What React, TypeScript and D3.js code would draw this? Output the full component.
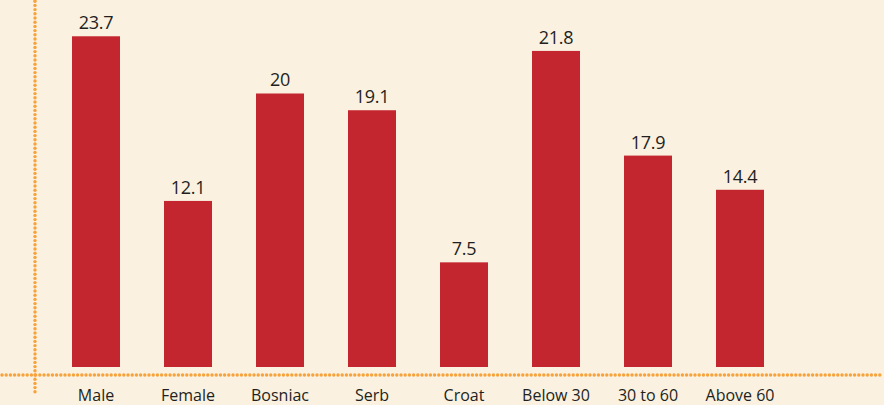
import React from 'react';
import * as d3 from 'd3';

const categories = ['Male', 'Female', 'Bosniac', 'Serb', 'Croat', 'Below 30', '30 to 60', 'Above 60'];
// printed labels
const valueLabels = ['23.7', '12.1', '20', '19.1', '7.5', '21.8', '17.9', '14.4'];
// bar heights as drawn in the picture (they don't quite follow the labels)
const barValues = [23.7, 11.9, 19.6, 18.4, 7.5, 22.65, 15.15, 12.7];

const width = 884;
const height = 405;
const baseY = 367;
const axisY = 375;
const axisX = 35;
const dotGap = 4.2;

const App = () => {
    // bands: 48px bars on a 92px step, first bar at x=72
    const xScale = d3
        .scaleBand<string>()
        .domain(categories)
        .range([50, 786])
        .paddingInner(44 / 92)
        .paddingOuter(22 / 92);

    const yScale = d3.scaleLinear().domain([0, 26.3]).range([baseY, 0]);

    const font = '"Open Sans", "Liberation Sans", sans-serif';

    const hDots = d3.range(2, width, dotGap);
    const vDots = d3.range(axisY, 0, -dotGap).concat(d3.range(axisY + dotGap, 395, dotGap));

    return (
        <svg
            width={width}
            height={height}
            style={{ position: 'absolute', left: 0, top: 0, display: 'block' }}
        >
            <rect x={0} y={0} width={width} height={height} fill="#faf1e0" />

            {/* bars */}
            {categories.map((c, i) => (
                <rect
                    key={c}
                    x={xScale(c)}
                    y={yScale(barValues[i])}
                    width={xScale.bandwidth()}
                    height={baseY - yScale(barValues[i])}
                    fill="#c4262f"
                />
            ))}

            {/* value labels */}
            {categories.map((c, i) => (
                <text
                    key={c + '-v'}
                    x={(xScale(c) as number) + xScale.bandwidth() / 2}
                    y={yScale(barValues[i]) - 7}
                    textAnchor="middle"
                    fontFamily={font}
                    fontSize={18}
                    letterSpacing={-0.3}
                    fill="#231f20"
                >
                    {valueLabels[i]}
                </text>
            ))}

            {/* dotted axes */}
            <g fill="#f7a23b">
                {hDots.map((x) => (
                    <circle key={'h' + x} cx={x} cy={axisY} r={1.7} />
                ))}
                {vDots.map((y) => (
                    <circle key={'v' + y} cx={axisX} cy={y} r={1.7} />
                ))}
            </g>

            {/* category labels */}
            {categories.map((c) => (
                <text
                    key={c + '-c'}
                    x={(xScale(c) as number) + xScale.bandwidth() / 2}
                    y={401}
                    textAnchor="middle"
                    fontFamily={font}
                    fontSize={16}
                    fill="#231f20"
                >
                    {c}
                </text>
            ))}
        </svg>
    );
};

export default App;
